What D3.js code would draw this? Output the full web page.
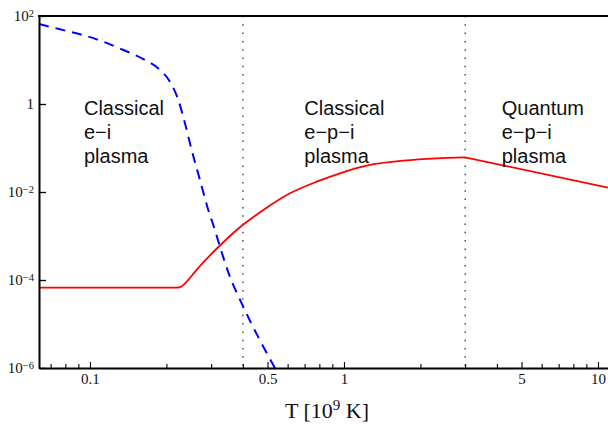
<!DOCTYPE html>
<html>
<head>
<meta charset="utf-8">
<script src="https://cdn.jsdelivr.net/npm/d3@7"></script>
<style>
  body { margin: 0; background: #fff; }
  svg { display: block; }
</style>
</head>
<body>
<div id="chart"></div>
<script>
// dashed blue curve (T in 10^9 K, value)
const blueT = [0.063, 0.0762, 0.1063, 0.1353, 0.1622, 0.1886, 0.2065, 0.2227, 0.2366, 0.2514, 0.2711, 0.2922, 0.3104, 0.3249, 0.3556, 0.3956, 0.54];
const blueV = [65.8, 49.9, 29.5, 16.9, 10.5, 5.93, 3.21, 1.233, 0.364, 0.0901, 0.01874, 3.9e-3, 1.369e-3, 5.71e-4, 1.19e-4, 2.95e-5, 9.0e-7];

// red curve, rising part up to the kink at T = 3
const redRiseT = [0.063, 0.2195, 0.2261, 0.2366, 0.2521, 0.2711, 0.2968, 0.3249, 0.378, 0.4813, 0.6129, 0.7807, 0.9644, 1.266, 1.712, 2.317, 2.995];
const redRiseV = [6.68e-5, 6.68e-5, 6.86e-5, 8.33e-5, 1.266e-4, 2.08e-4, 3.61e-4, 6.08e-4, 1.369e-3, 3.9e-3, 9.34e-3, 0.01714, 0.0266, 0.0411, 0.0514, 0.0583, 0.0615];
// red curve, falling part after the kink
const redFallT = [2.995, 10.95];
const redFallV = [0.0615, 0.01259];

// region boundaries
const boundaries = [0.4, 3];

// region labels
const regionT = [0.0947, 0.698, 4.18];
const regionLines = [
  ["Classical", "e\u2212i", "plasma"],
  ["Classical", "e\u2212p\u2212i", "plasma"],
  ["Quantum", "e\u2212p\u2212i", "plasma"]
];

// axis ticks
const xTicks = [0.07, 0.08, 0.09, 0.1, 0.2, 0.3, 0.4, 0.5, 0.6, 0.7, 0.8, 0.9, 1, 2, 3, 4, 5, 6, 7, 8, 9, 10];
const xLabelled = [0.1, 0.5, 1, 5, 10];
const yTicks = [1e2, 1, 1e-2, 1e-4, 1e-6];
const yExp = [2, null, -2, -4, -6];

const width = 608, height = 424;
const mLeft = 39, mRight = 608, mTop = 16, mBottom = 368;

const svg = d3.select('#chart')
    .append('svg')
    .attr('width', width)
    .attr('height', height);

const x = d3.scaleLog().domain([0.063, 10.95]).range([mLeft, mRight]);
const y = d3.scaleLog().domain([1e-6, 1e2]).range([mBottom, mTop]);

svg.append('clipPath').attr('id', 'plot')
    .append('rect')
    .attr('x', mLeft).attr('y', mTop)
    .attr('width', mRight - mLeft).attr('height', mBottom - mTop);

// dotted region boundaries
svg.selectAll('.bound')
    .data(boundaries)
    .enter().append('line')
    .attr('x1', d => x(d)).attr('x2', d => x(d))
    .attr('y1', mTop).attr('y2', mBottom)
    .attr('stroke', '#222')
    .attr('stroke-width', 1.2)
    .attr('stroke-dasharray', '1.5,6.8');

const plot = svg.append('g').attr('clip-path', 'url(#plot)');

const line = d3.line()
    .x(d => x(d[0]))
    .y(d => y(d[1]))
    .curve(d3.curveMonotoneX);

plot.append('path')
    .datum(blueT.map((t, i) => [t, blueV[i]]))
    .attr('d', line)
    .attr('fill', 'none')
    .attr('stroke', '#0000ff')
    .attr('stroke-width', 2)
    .attr('stroke-dasharray', '10,7');

plot.append('path')
    .datum(redRiseT.map((t, i) => [t, redRiseV[i]]))
    .attr('d', line)
    .attr('fill', 'none')
    .attr('stroke', '#ff0000')
    .attr('stroke-width', 1.8);

plot.append('path')
    .datum(redFallT.map((t, i) => [t, redFallV[i]]))
    .attr('d', line.curve(d3.curveLinear))
    .attr('fill', 'none')
    .attr('stroke', '#ff0000')
    .attr('stroke-width', 1.8);

// region labels
regionT.forEach((t, i) => {
    const txt = svg.append('text')
        .attr('x', x(t))
        .attr('y', 115)
        .attr('font-family', '"Liberation Sans", Arial, sans-serif')
        .attr('font-size', 20)
        .attr('fill', '#111');
    regionLines[i].forEach((s, j) => {
        txt.append('tspan')
            .attr('x', x(t))
            .attr('y', 115 + j * 24)
            .text(s);
    });
});

// x axis
const xAxis = d3.axisBottom(x)
    .tickValues(xTicks)
    .tickSizeOuter(0)
    .tickSizeInner(-6)
    .tickPadding(5)
    .tickFormat(d => xLabelled.includes(d) ? d3.format('')(d) : '');

const gx = svg.append('g')
    .attr('transform', `translate(0,${mBottom})`)
    .call(xAxis);
gx.select('.domain').attr('stroke-width', 2).attr('stroke', '#000');
gx.selectAll('.tick line')
    .attr('y2', d => xLabelled.includes(d) ? -6 : -4)
    .attr('stroke-width', 1.1);
gx.selectAll('.tick text')
    .attr('font-family', '"Liberation Serif", "Times New Roman", serif')
    .attr('font-size', 15)
    .attr('fill', '#111');

// y axis
const yAxis = d3.axisLeft(y)
    .tickValues(yTicks)
    .tickSizeOuter(0)
    .tickSizeInner(-7)
    .tickPadding(5)
    .tickFormat(() => '');

const gy = svg.append('g')
    .attr('transform', `translate(${mLeft},0)`)
    .call(yAxis);
gy.select('.domain').attr('stroke-width', 2).attr('stroke', '#000');
gy.selectAll('.tick line').attr('stroke-width', 1.3);
gy.selectAll('.tick text')
    .attr('font-family', '"Liberation Serif", "Times New Roman", serif')
    .attr('font-size', 15)
    .attr('fill', '#111')
    .each(function(d) {
        const e = yExp[yTicks.indexOf(d)];
        const t = d3.select(this);
        if (e === null) {
            t.text('1');
        } else {
            t.append('tspan').text('10');
            t.append('tspan')
                .attr('font-size', 10.5)
                .attr('dy', '-0.45em')
                .text(e < 0 ? '\u2212' + (-e) : e);
        }
    });

// top frame line
svg.append('line')
    .attr('x1', mLeft - 1).attr('x2', mRight)
    .attr('y1', mTop).attr('y2', mTop)
    .attr('stroke', '#000')
    .attr('stroke-width', 2);

// x axis title
const title = svg.append('text')
    .attr('x', 327)
    .attr('y', 418)
    .attr('text-anchor', 'middle')
    .attr('font-family', '"Liberation Serif", "Times New Roman", serif')
    .attr('font-size', 22)
    .attr('fill', '#111');
title.append('tspan').text('T [10');
title.append('tspan').attr('font-size', 15).attr('dy', -8).text('9');
title.append('tspan').attr('dy', 8).text(' K]');
</script>
</body>
</html>
